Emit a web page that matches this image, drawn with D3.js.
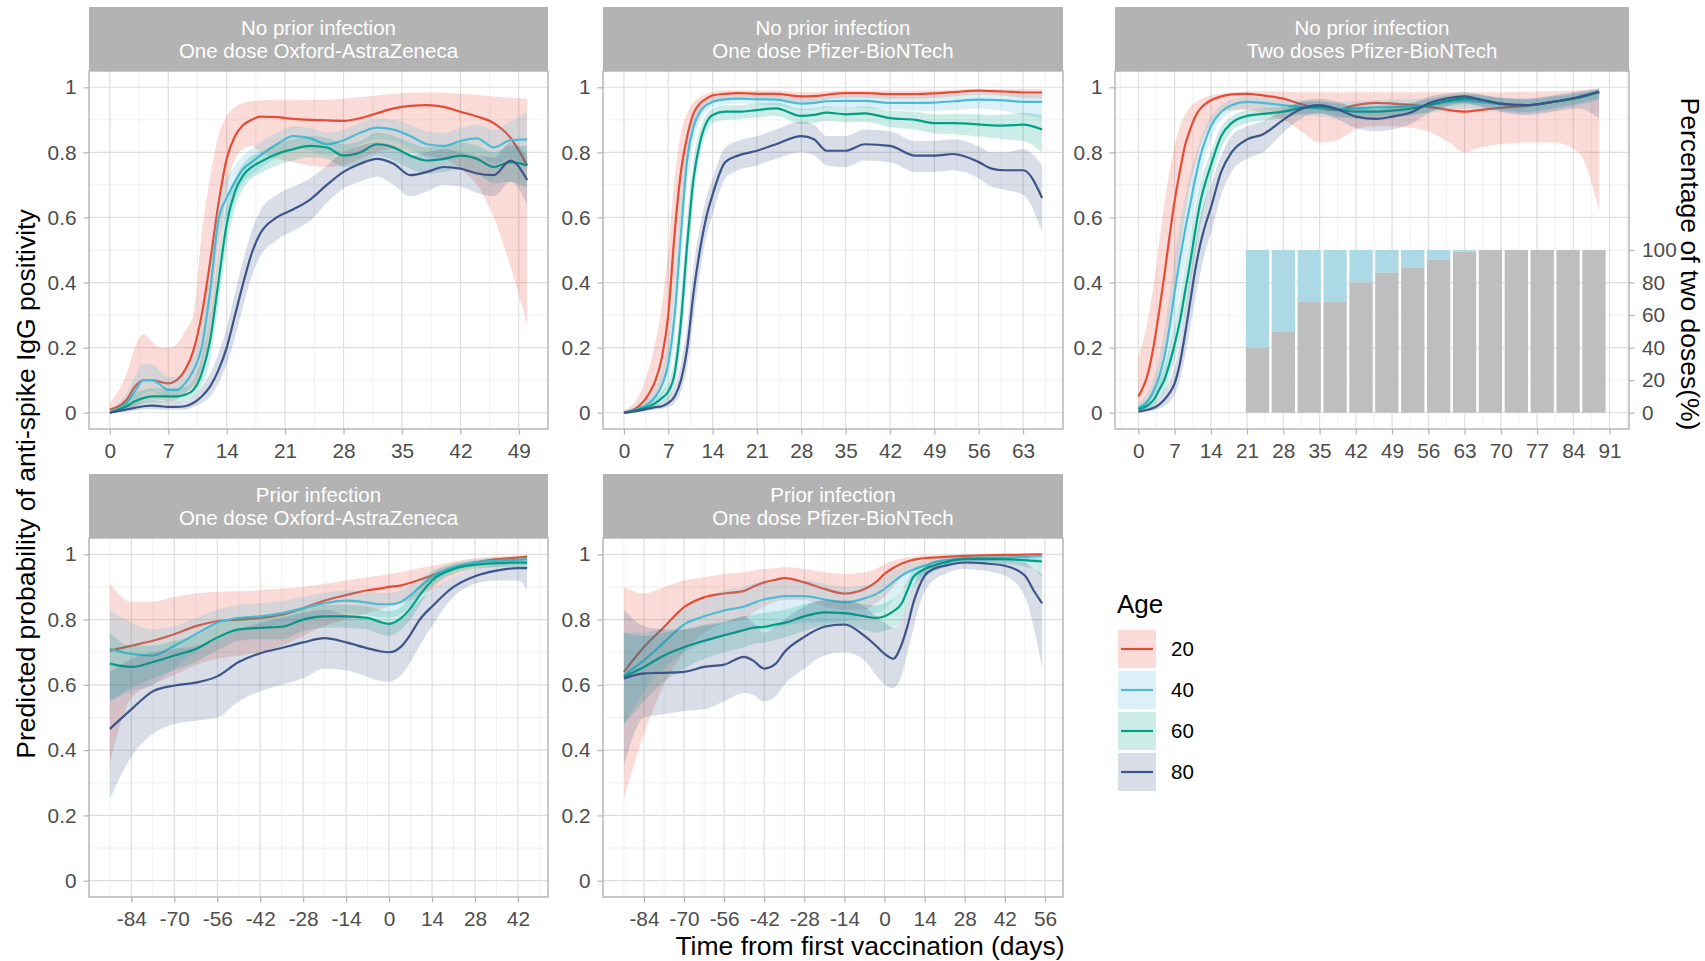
<!DOCTYPE html>
<html>
<head>
<meta charset="utf-8">
<script src="https://cdn.jsdelivr.net/npm/d3@7"></script>
<style>
body { margin: 0; background: #fff; }
text { font-family: "Liberation Sans", Arial, Helvetica, sans-serif; }
</style>
</head>
<body>
<script>
// ---- data ----
var ages = ["20", "40", "60", "80"];
var ageColors = ["#E64B35", "#4DBBD5", "#00A087", "#3C5488"];

var yTicks = [0, 0.2, 0.4, 0.6, 0.8, 1];
var yTickLabels = ["0", "0.2", "0.4", "0.6", "0.8", "1"];

var stripTop = ["No prior infection", "No prior infection", "No prior infection", "Prior infection", "Prior infection"];
var stripBottom = ["One dose Oxford-AstraZeneca", "One dose Pfizer-BioNTech", "Two doses Pfizer-BioNTech",
                   "One dose Oxford-AstraZeneca", "One dose Pfizer-BioNTech"];

// panel 1: no prior infection, one dose AZ
var p1Ticks = [0, 7, 14, 21, 28, 35, 42, 49];
var p1Days = [0,2,3,4,5,6,7,8,9,10,11,12,13,14,15,16,17,18,20,22,24,26,28,30,32,34,36,38,40,42,44,46,48,50];
var p1Fit = [
  [0.01,0.04,0.08,0.10,0.10,0.095,0.09,0.10,0.13,0.19,0.30,0.46,0.64,0.78,0.85,0.885,0.90,0.91,0.908,0.903,0.90,0.898,0.897,0.905,0.92,0.935,0.943,0.945,0.94,0.925,0.91,0.89,0.845,0.76],
  [0,0.03,0.066,0.10,0.10,0.087,0.07,0.07,0.09,0.13,0.20,0.37,0.59,0.66,0.71,0.75,0.77,0.79,0.825,0.85,0.843,0.825,0.837,0.86,0.876,0.87,0.85,0.825,0.82,0.835,0.843,0.815,0.837,0.84],
  [0,0.02,0.035,0.045,0.05,0.05,0.05,0.05,0.055,0.07,0.12,0.22,0.40,0.58,0.68,0.73,0.755,0.77,0.795,0.81,0.82,0.815,0.79,0.80,0.825,0.815,0.79,0.775,0.78,0.79,0.78,0.755,0.77,0.76],
  [0,0.01,0.015,0.02,0.022,0.02,0.018,0.018,0.02,0.03,0.05,0.08,0.13,0.20,0.30,0.40,0.49,0.55,0.60,0.625,0.655,0.70,0.74,0.765,0.78,0.765,0.73,0.74,0.755,0.75,0.735,0.73,0.775,0.715]
];
var p1Lo = [
  [0,0.005,0.02,0.035,0.04,0.04,0.035,0.04,0.06,0.08,0.12,0.22,0.45,0.68,0.78,0.81,0.82,0.80,0.78,0.77,0.76,0.755,0.76,0.78,0.80,0.81,0.80,0.79,0.78,0.75,0.70,0.60,0.45,0.27],
  [0,0.01,0.035,0.06,0.065,0.055,0.045,0.045,0.06,0.09,0.14,0.29,0.52,0.60,0.66,0.71,0.73,0.75,0.785,0.815,0.805,0.79,0.80,0.825,0.84,0.835,0.81,0.785,0.775,0.79,0.795,0.765,0.78,0.76],
  [0,0.008,0.02,0.028,0.032,0.032,0.032,0.032,0.036,0.048,0.085,0.16,0.33,0.51,0.63,0.69,0.72,0.735,0.76,0.775,0.785,0.78,0.755,0.765,0.79,0.775,0.75,0.735,0.74,0.75,0.735,0.705,0.71,0.69],
  [0,0.003,0.006,0.01,0.011,0.01,0.009,0.009,0.01,0.017,0.03,0.05,0.09,0.15,0.23,0.33,0.42,0.48,0.53,0.56,0.59,0.645,0.69,0.71,0.725,0.70,0.665,0.68,0.70,0.695,0.675,0.665,0.71,0.64]
];
var p1Hi = [
  [0.03,0.12,0.20,0.24,0.22,0.20,0.20,0.21,0.25,0.30,0.55,0.72,0.85,0.91,0.94,0.952,0.957,0.96,0.96,0.96,0.962,0.962,0.965,0.97,0.975,0.98,0.983,0.984,0.983,0.98,0.977,0.972,0.968,0.965],
  [0.01,0.06,0.11,0.15,0.15,0.13,0.11,0.11,0.13,0.18,0.27,0.45,0.65,0.72,0.76,0.79,0.81,0.83,0.86,0.88,0.875,0.86,0.87,0.89,0.905,0.90,0.885,0.865,0.86,0.875,0.885,0.87,0.895,0.925],
  [0.005,0.04,0.06,0.07,0.075,0.075,0.075,0.075,0.08,0.10,0.17,0.29,0.48,0.64,0.72,0.765,0.79,0.80,0.825,0.84,0.85,0.845,0.825,0.835,0.86,0.85,0.83,0.815,0.82,0.83,0.82,0.80,0.82,0.82],
  [0.005,0.02,0.03,0.035,0.038,0.036,0.034,0.034,0.036,0.05,0.08,0.12,0.18,0.26,0.37,0.47,0.56,0.62,0.67,0.695,0.72,0.76,0.80,0.82,0.83,0.82,0.79,0.80,0.81,0.80,0.79,0.785,0.83,0.79]
];

// panel 2: no prior infection, one dose Pfizer
var p2Ticks = [0, 7, 14, 21, 28, 35, 42, 49, 56, 63];
var p2Days = [0,2,4,5,6,7,8,9,10,11,12,13,14,16,18,21,24,28,30,32,35,38,42,46,49,52,56,58,60,63,66];
var p2Fit = [
  [0,0.015,0.06,0.10,0.17,0.30,0.55,0.74,0.85,0.92,0.95,0.965,0.975,0.98,0.982,0.98,0.98,0.972,0.973,0.977,0.982,0.982,0.979,0.979,0.981,0.985,0.99,0.988,0.987,0.984,0.984],
  [0,0.01,0.03,0.05,0.085,0.15,0.30,0.55,0.78,0.88,0.925,0.945,0.955,0.963,0.965,0.963,0.962,0.95,0.952,0.957,0.958,0.958,0.952,0.952,0.953,0.957,0.962,0.961,0.96,0.955,0.955],
  [0,0.008,0.02,0.03,0.045,0.065,0.12,0.28,0.52,0.72,0.83,0.89,0.915,0.925,0.925,0.93,0.935,0.912,0.915,0.922,0.917,0.92,0.905,0.90,0.89,0.89,0.886,0.883,0.882,0.885,0.87],
  [0,0.005,0.013,0.017,0.02,0.03,0.05,0.10,0.20,0.37,0.50,0.60,0.67,0.77,0.79,0.805,0.825,0.85,0.84,0.805,0.805,0.825,0.82,0.79,0.79,0.795,0.77,0.75,0.745,0.745,0.66]
];
var p2Lo = [
  [0,0.005,0.025,0.045,0.08,0.17,0.38,0.60,0.76,0.86,0.91,0.94,0.955,0.965,0.968,0.965,0.965,0.955,0.957,0.962,0.968,0.968,0.965,0.965,0.967,0.972,0.978,0.976,0.974,0.968,0.965],
  [0,0.004,0.017,0.03,0.055,0.10,0.22,0.46,0.70,0.83,0.895,0.925,0.94,0.947,0.95,0.947,0.945,0.93,0.932,0.937,0.938,0.937,0.93,0.928,0.927,0.93,0.935,0.932,0.928,0.915,0.905],
  [0,0.003,0.01,0.018,0.03,0.045,0.085,0.21,0.44,0.66,0.79,0.86,0.89,0.90,0.902,0.907,0.912,0.887,0.89,0.897,0.892,0.894,0.877,0.87,0.858,0.856,0.849,0.845,0.84,0.835,0.80],
  [0,0.002,0.007,0.01,0.012,0.018,0.03,0.065,0.14,0.29,0.43,0.54,0.61,0.72,0.745,0.76,0.78,0.80,0.79,0.76,0.755,0.775,0.77,0.74,0.74,0.745,0.72,0.695,0.685,0.67,0.555]
];
var p2Hi = [
  [0.01,0.04,0.14,0.22,0.33,0.50,0.72,0.86,0.92,0.955,0.97,0.98,0.986,0.99,0.99,0.99,0.99,0.985,0.985,0.988,0.99,0.99,0.99,0.99,0.99,0.993,0.995,0.995,0.995,0.994,0.996],
  [0.005,0.02,0.05,0.08,0.13,0.22,0.40,0.64,0.84,0.92,0.95,0.962,0.97,0.976,0.978,0.977,0.976,0.968,0.97,0.974,0.975,0.976,0.972,0.973,0.975,0.978,0.982,0.982,0.982,0.98,0.982],
  [0.004,0.015,0.032,0.045,0.065,0.095,0.17,0.36,0.60,0.78,0.87,0.915,0.935,0.945,0.945,0.95,0.953,0.933,0.936,0.942,0.938,0.942,0.928,0.925,0.917,0.918,0.917,0.915,0.916,0.922,0.915],
  [0.003,0.01,0.02,0.025,0.032,0.05,0.08,0.15,0.27,0.45,0.57,0.66,0.72,0.815,0.835,0.85,0.87,0.895,0.885,0.85,0.85,0.87,0.865,0.835,0.835,0.84,0.818,0.80,0.80,0.81,0.76]
];

// panel 3: no prior infection, two doses Pfizer
var p3Ticks = [0, 7, 14, 21, 28, 35, 42, 49, 56, 63, 70, 77, 84, 91];
var p3Days = [0,2,3,4,5,6,7,8,9,10,11,12,13,14,16,18,21,24,28,31,35,38,42,46,49,53,56,60,63,66,70,75,80,85,89];
var p3Fit = [
  [0.05,0.13,0.21,0.31,0.42,0.54,0.65,0.74,0.82,0.87,0.91,0.935,0.95,0.96,0.972,0.978,0.98,0.975,0.965,0.95,0.935,0.93,0.945,0.952,0.95,0.945,0.94,0.93,0.925,0.93,0.937,0.943,0.955,0.968,0.985],
  [0.015,0.04,0.07,0.11,0.17,0.26,0.37,0.47,0.56,0.64,0.72,0.79,0.84,0.88,0.925,0.945,0.955,0.952,0.945,0.94,0.935,0.932,0.935,0.938,0.94,0.942,0.945,0.955,0.958,0.955,0.948,0.945,0.955,0.97,0.985],
  [0.01,0.025,0.04,0.07,0.10,0.15,0.21,0.28,0.37,0.46,0.56,0.65,0.71,0.76,0.85,0.89,0.912,0.918,0.925,0.935,0.94,0.932,0.925,0.925,0.928,0.935,0.945,0.96,0.965,0.962,0.95,0.945,0.955,0.968,0.985],
  [0.003,0.01,0.015,0.025,0.04,0.06,0.09,0.15,0.24,0.34,0.44,0.52,0.58,0.63,0.74,0.80,0.84,0.855,0.90,0.93,0.945,0.935,0.91,0.903,0.91,0.925,0.95,0.967,0.972,0.962,0.95,0.945,0.955,0.97,0.987]
];
var p3Lo = [
  [0.01,0.03,0.06,0.10,0.17,0.27,0.38,0.50,0.60,0.70,0.76,0.82,0.86,0.89,0.92,0.93,0.93,0.92,0.90,0.87,0.83,0.835,0.87,0.88,0.88,0.875,0.865,0.83,0.80,0.815,0.825,0.83,0.83,0.80,0.62],
  [0.005,0.02,0.04,0.07,0.11,0.18,0.27,0.37,0.46,0.55,0.64,0.72,0.79,0.84,0.90,0.925,0.935,0.932,0.925,0.918,0.91,0.906,0.91,0.913,0.915,0.917,0.92,0.932,0.935,0.932,0.925,0.92,0.93,0.945,0.96],
  [0.004,0.012,0.022,0.045,0.065,0.11,0.16,0.22,0.30,0.39,0.49,0.58,0.65,0.71,0.81,0.865,0.89,0.898,0.905,0.915,0.92,0.912,0.904,0.904,0.907,0.914,0.925,0.942,0.947,0.944,0.93,0.925,0.935,0.95,0.965],
  [0,0.004,0.007,0.012,0.02,0.033,0.055,0.10,0.17,0.26,0.35,0.43,0.50,0.55,0.67,0.74,0.78,0.80,0.86,0.90,0.92,0.905,0.875,0.865,0.87,0.89,0.92,0.945,0.952,0.94,0.925,0.915,0.925,0.935,0.905]
];
var p3Hi = [
  [0.17,0.30,0.40,0.52,0.64,0.74,0.82,0.88,0.915,0.94,0.953,0.963,0.97,0.975,0.981,0.985,0.988,0.988,0.987,0.985,0.985,0.985,0.985,0.985,0.985,0.985,0.985,0.985,0.985,0.985,0.985,0.986,0.988,0.99,0.995],
  [0.03,0.07,0.11,0.17,0.25,0.36,0.48,0.58,0.66,0.73,0.79,0.84,0.88,0.91,0.945,0.962,0.97,0.968,0.963,0.96,0.957,0.955,0.957,0.96,0.962,0.964,0.966,0.973,0.976,0.974,0.968,0.966,0.973,0.983,0.993],
  [0.02,0.045,0.065,0.10,0.14,0.20,0.27,0.35,0.45,0.54,0.63,0.71,0.76,0.80,0.88,0.91,0.93,0.935,0.942,0.952,0.957,0.95,0.943,0.943,0.946,0.953,0.962,0.975,0.979,0.977,0.966,0.962,0.97,0.981,0.993],
  [0.008,0.02,0.03,0.045,0.07,0.10,0.14,0.21,0.31,0.42,0.52,0.60,0.66,0.70,0.79,0.85,0.88,0.895,0.93,0.955,0.965,0.958,0.938,0.932,0.94,0.952,0.97,0.982,0.985,0.978,0.968,0.965,0.975,0.988,0.998]
];
// share of second doses, 5-day bins from day 21
var doseBinMid = [23, 28, 33, 38, 43, 48, 53, 58, 63, 68, 73, 78, 83, 88];
var twoDosePct = [40, 50, 68, 68, 80, 86, 89, 94, 99, 100, 100, 100, 100, 100];
var doseBinWidth = 4.5;
var pctTicks = [0, 20, 40, 60, 80, 100];

// panel 4: prior infection, one dose AZ
var p4Ticks = [-84, -70, -56, -42, -28, -14, 0, 14, 28, 42];
var p4Days = [-91,-84,-77,-70,-63,-56,-49,-42,-35,-28,-21,-14,-7,-3,0,4,7,10,14,21,28,35,42,45];
var p4Fit = [
  [0.705,0.72,0.735,0.755,0.78,0.795,0.80,0.805,0.815,0.835,0.858,0.875,0.89,0.895,0.90,0.905,0.913,0.922,0.935,0.96,0.975,0.985,0.99,0.993],
  [0.71,0.695,0.69,0.72,0.755,0.79,0.805,0.81,0.82,0.835,0.85,0.858,0.852,0.847,0.847,0.855,0.875,0.90,0.93,0.96,0.975,0.98,0.983,0.985],
  [0.665,0.655,0.67,0.69,0.71,0.745,0.77,0.775,0.778,0.80,0.81,0.81,0.805,0.793,0.787,0.805,0.835,0.875,0.92,0.955,0.968,0.973,0.975,0.975],
  [0.465,0.525,0.58,0.598,0.607,0.626,0.67,0.697,0.713,0.73,0.743,0.73,0.712,0.703,0.70,0.718,0.755,0.80,0.84,0.90,0.933,0.95,0.958,0.958]
];
var p4Lo = [
  [0.36,0.56,0.60,0.63,0.66,0.68,0.69,0.70,0.72,0.75,0.78,0.80,0.82,0.83,0.84,0.85,0.86,0.875,0.89,0.93,0.955,0.965,0.97,0.97],
  [0.55,0.58,0.60,0.65,0.70,0.745,0.765,0.77,0.78,0.797,0.815,0.822,0.814,0.808,0.808,0.818,0.84,0.87,0.905,0.945,0.963,0.968,0.97,0.97],
  [0.55,0.59,0.62,0.645,0.67,0.705,0.735,0.74,0.74,0.765,0.775,0.775,0.77,0.756,0.75,0.77,0.80,0.845,0.895,0.94,0.955,0.96,0.96,0.958],
  [0.25,0.38,0.45,0.48,0.49,0.50,0.55,0.58,0.60,0.62,0.65,0.645,0.625,0.612,0.61,0.63,0.67,0.72,0.78,0.87,0.91,0.92,0.92,0.89]
];
var p4Hi = [
  [0.91,0.855,0.855,0.87,0.88,0.885,0.887,0.89,0.895,0.90,0.91,0.92,0.93,0.935,0.94,0.945,0.952,0.958,0.965,0.978,0.988,0.993,0.996,0.997],
  [0.83,0.79,0.77,0.78,0.805,0.83,0.845,0.85,0.857,0.87,0.882,0.89,0.887,0.882,0.882,0.89,0.905,0.925,0.95,0.973,0.985,0.99,0.992,0.993],
  [0.76,0.72,0.72,0.735,0.75,0.785,0.805,0.81,0.815,0.835,0.845,0.845,0.84,0.83,0.826,0.84,0.87,0.905,0.943,0.97,0.98,0.985,0.987,0.988],
  [0.64,0.68,0.70,0.71,0.72,0.74,0.77,0.79,0.805,0.82,0.83,0.815,0.80,0.79,0.785,0.80,0.83,0.86,0.89,0.93,0.955,0.968,0.975,0.975]
];

// panel 5: prior infection, one dose Pfizer
var p5Ticks = [-84, -70, -56, -42, -28, -14, 0, 14, 28, 42, 56];
var p5Days = [-91,-84,-77,-70,-63,-56,-49,-46,-42,-38,-35,-28,-21,-14,-7,-3,0,3,6,8,10,12,14,17,21,28,35,42,49,52,55];
var p5Fit = [
  [0.64,0.716,0.777,0.838,0.868,0.88,0.888,0.90,0.914,0.922,0.927,0.914,0.894,0.88,0.894,0.915,0.94,0.958,0.972,0.978,0.983,0.986,0.988,0.99,0.992,0.995,0.997,0.998,0.999,1.0,1.0],
  [0.63,0.675,0.73,0.785,0.81,0.828,0.84,0.85,0.862,0.868,0.872,0.872,0.862,0.853,0.865,0.878,0.894,0.915,0.935,0.945,0.953,0.96,0.965,0.975,0.982,0.988,0.99,0.99,0.992,0.994,0.995],
  [0.625,0.655,0.69,0.715,0.735,0.752,0.768,0.775,0.778,0.785,0.79,0.81,0.822,0.82,0.81,0.805,0.81,0.825,0.85,0.89,0.93,0.945,0.955,0.965,0.975,0.985,0.985,0.985,0.982,0.98,0.978],
  [0.62,0.635,0.637,0.64,0.655,0.662,0.686,0.675,0.65,0.665,0.70,0.747,0.778,0.785,0.75,0.72,0.695,0.68,0.725,0.78,0.85,0.90,0.935,0.955,0.965,0.975,0.972,0.965,0.935,0.89,0.85]
];
var p5Lo = [
  [0.25,0.45,0.60,0.70,0.76,0.79,0.80,0.82,0.84,0.855,0.86,0.86,0.84,0.83,0.83,0.85,0.87,0.90,0.93,0.945,0.955,0.962,0.97,0.975,0.98,0.985,0.988,0.99,0.99,0.99,0.99],
  [0.48,0.58,0.65,0.70,0.73,0.75,0.765,0.77,0.77,0.775,0.78,0.79,0.79,0.795,0.81,0.82,0.83,0.86,0.89,0.905,0.92,0.93,0.94,0.955,0.965,0.975,0.978,0.978,0.98,0.982,0.98],
  [0.48,0.55,0.61,0.65,0.68,0.70,0.715,0.725,0.73,0.738,0.745,0.765,0.78,0.78,0.768,0.76,0.765,0.775,0.80,0.85,0.895,0.918,0.932,0.946,0.96,0.972,0.972,0.97,0.962,0.955,0.93],
  [0.35,0.50,0.51,0.52,0.525,0.55,0.575,0.57,0.55,0.565,0.60,0.65,0.69,0.70,0.675,0.63,0.60,0.59,0.63,0.70,0.77,0.84,0.885,0.92,0.94,0.955,0.95,0.935,0.87,0.78,0.65]
];
var p5Hi = [
  [0.90,0.88,0.90,0.92,0.93,0.94,0.945,0.95,0.955,0.958,0.96,0.955,0.945,0.94,0.945,0.955,0.97,0.98,0.988,0.99,0.993,0.995,0.996,0.997,0.998,0.999,0.999,1.0,1.0,1.0,1.0],
  [0.76,0.76,0.78,0.83,0.86,0.89,0.90,0.91,0.915,0.918,0.92,0.92,0.91,0.90,0.905,0.915,0.93,0.945,0.96,0.967,0.972,0.976,0.98,0.986,0.99,0.994,0.996,0.996,0.997,0.998,0.998],
  [0.76,0.75,0.76,0.77,0.785,0.795,0.81,0.815,0.82,0.826,0.83,0.848,0.857,0.855,0.847,0.843,0.85,0.865,0.89,0.92,0.952,0.963,0.97,0.978,0.985,0.992,0.993,0.993,0.991,0.99,0.99],
  [0.83,0.78,0.77,0.77,0.78,0.79,0.81,0.79,0.76,0.78,0.80,0.84,0.86,0.86,0.84,0.81,0.79,0.775,0.80,0.85,0.90,0.94,0.96,0.975,0.982,0.99,0.99,0.985,0.975,0.955,0.94]
];

// ---- layout ----
var W = 1705, H = 961;
var gridMajor = "#DEDEDE", gridMinor = "#ECECEC", frame = "#B3B3B3", tickText = "#4D4D4D";
var tickLen = 5.5;

var panels = [
  {days: p1Days, fit: p1Fit, lo: p1Lo, hi: p1Hi, ticks: p1Ticks, box: {x0: 89, x1: 548, sy: 7, y0: 71, y1: 429}},
  {days: p2Days, fit: p2Fit, lo: p2Lo, hi: p2Hi, ticks: p2Ticks, box: {x0: 603, x1: 1063, sy: 7, y0: 71, y1: 429}},
  {days: p3Days, fit: p3Fit, lo: p3Lo, hi: p3Hi, ticks: p3Ticks, box: {x0: 1115, x1: 1629, sy: 7, y0: 71, y1: 429}, bars: true},
  {days: p4Days, fit: p4Fit, lo: p4Lo, hi: p4Hi, ticks: p4Ticks, box: {x0: 89, x1: 548, sy: 474, y0: 538, y1: 897}},
  {days: p5Days, fit: p5Fit, lo: p5Lo, hi: p5Hi, ticks: p5Ticks, box: {x0: 603, x1: 1063, sy: 474, y0: 538, y1: 897}}
];

var svg = d3.select("body").append("svg").attr("width", W).attr("height", H);
svg.append("rect").attr("width", W).attr("height", H).attr("fill", "#fff");

var yMinor = yTicks.slice(1).map(function(v, k){ return (v + yTicks[k]) / 2; });

panels.forEach(function(p, i){
  var b = p.box;
  var ext = d3.extent(p.days);
  if (p.bars) ext[1] = Math.max(ext[1], d3.max(doseBinMid) + doseBinWidth / 2);
  var pad = (ext[1] - ext[0]) * 0.05;
  var x = d3.scaleLinear().domain([ext[0] - pad, ext[1] + pad]).range([b.x0, b.x1]);
  var y = d3.scaleLinear().domain([-0.05, 1.05]).range([b.y1, b.y0]);

  var g = svg.append("g");

  // strip
  g.append("rect").attr("x", b.x0).attr("y", b.sy).attr("width", b.x1 - b.x0).attr("height", b.y0 - b.sy)
    .attr("fill", "#B3B3B3");
  var cx = (b.x0 + b.x1) / 2;
  g.append("text").attr("x", cx).attr("y", b.sy + 28).attr("text-anchor", "middle")
    .attr("fill", "#fff").attr("font-size", "20.5px").text(stripTop[i]);
  g.append("text").attr("x", cx).attr("y", b.sy + 51).attr("text-anchor", "middle")
    .attr("fill", "#fff").attr("font-size", "20.5px").text(stripBottom[i]);

  // grid
  var step = p.ticks[1] - p.ticks[0];
  var dom = x.domain();
  var xMinor = d3.range(p.ticks[0] - step / 2, dom[1], step).filter(function(v){ return v >= dom[0]; });
  g.selectAll(".xmin").data(xMinor).enter().append("line")
    .attr("x1", function(d){ return x(d); }).attr("x2", function(d){ return x(d); })
    .attr("y1", b.y0).attr("y2", b.y1).attr("stroke", gridMinor).attr("stroke-width", 0.8);
  g.selectAll(".ymin").data(yMinor).enter().append("line")
    .attr("x1", b.x0).attr("x2", b.x1)
    .attr("y1", function(d){ return y(d); }).attr("y2", function(d){ return y(d); })
    .attr("stroke", gridMinor).attr("stroke-width", 0.8);
  g.selectAll(".xmaj").data(p.ticks).enter().append("line")
    .attr("x1", function(d){ return x(d); }).attr("x2", function(d){ return x(d); })
    .attr("y1", b.y0).attr("y2", b.y1).attr("stroke", gridMajor).attr("stroke-width", 1.2);
  g.selectAll(".ymaj").data(yTicks).enter().append("line")
    .attr("x1", b.x0).attr("x2", b.x1)
    .attr("y1", function(d){ return y(d); }).attr("y2", function(d){ return y(d); })
    .attr("stroke", gridMajor).attr("stroke-width", 1.2);

  var clipId = "clip" + i;
  svg.append("clipPath").attr("id", clipId).append("rect")
    .attr("x", b.x0).attr("y", b.y0).attr("width", b.x1 - b.x0).attr("height", b.y1 - b.y0);
  var plot = g.append("g").attr("clip-path", "url(#" + clipId + ")");

  // stacked bars for the share of two doses (right axis)
  if (p.bars) {
    var yPct = d3.scaleLinear().domain([-10, 210]).range([b.y1, b.y0]);
    var bw = x(doseBinWidth) - x(0);
    plot.selectAll(".one").data(twoDosePct).enter().append("rect")
      .attr("x", function(d, k){ return x(doseBinMid[k] - doseBinWidth / 2); })
      .attr("width", bw)
      .attr("y", yPct(100))
      .attr("height", function(d){ return yPct(d) - yPct(100); })
      .attr("fill", "#ADD8E6");
    plot.selectAll(".two").data(twoDosePct).enter().append("rect")
      .attr("x", function(d, k){ return x(doseBinMid[k] - doseBinWidth / 2); })
      .attr("width", bw)
      .attr("y", function(d){ return yPct(d); })
      .attr("height", function(d){ return yPct(0) - yPct(d); })
      .attr("fill", "#BEBEBE");

    var ra = svg.append("g").attr("transform", "translate(" + b.x1 + ",0)")
      .call(d3.axisRight(yPct).tickValues(pctTicks).tickSize(tickLen).tickPadding(7.5));
    styleAxis(ra);
  }

  // ribbon then line, one age group after the other
  ages.forEach(function(a, k){
    var rows = p.days.map(function(d, j){ return {d: d, f: p.fit[k][j], lo: p.lo[k][j], hi: p.hi[k][j]}; });
    plot.append("path").datum(rows)
      .attr("d", d3.area().curve(d3.curveMonotoneX)
        .x(function(r){ return x(r.d); }).y0(function(r){ return y(r.lo); }).y1(function(r){ return y(r.hi); }))
      .attr("fill", ageColors[k]).attr("fill-opacity", 0.2);
    plot.append("path").datum(rows)
      .attr("d", d3.line().curve(d3.curveMonotoneX)
        .x(function(r){ return x(r.d); }).y(function(r){ return y(r.f); }))
      .attr("fill", "none").attr("stroke", ageColors[k]).attr("stroke-width", 2.2)
      .attr("stroke-linejoin", "round");
  });

  // frame
  g.append("rect").attr("x", b.x0).attr("y", b.y0).attr("width", b.x1 - b.x0).attr("height", b.y1 - b.y0)
    .attr("fill", "none").attr("stroke", frame).attr("stroke-width", 1.4);

  // axes
  var xa = svg.append("g").attr("transform", "translate(0," + b.y1 + ")")
    .call(d3.axisBottom(x).tickValues(p.ticks).tickSize(tickLen).tickPadding(9)
      .tickFormat(function(d){ return String(d); }));
  styleAxis(xa);
  var ya = svg.append("g").attr("transform", "translate(" + b.x0 + ",0)")
    .call(d3.axisLeft(y).tickValues(yTicks).tickSize(tickLen).tickPadding(7)
      .tickFormat(function(d, k){ return yTickLabels[k]; }));
  styleAxis(ya);
});

function styleAxis(sel){
  sel.select(".domain").remove();
  sel.attr("font-family", null).attr("font-size", null);
  sel.selectAll(".tick line").attr("stroke", frame).attr("stroke-width", 1.2);
  sel.selectAll(".tick text").attr("fill", tickText).style("font-size", "20.8px");
}

// axis titles
svg.append("text").attr("x", 870).attr("y", 955).attr("text-anchor", "middle")
  .attr("font-size", "26.5px").attr("fill", "#000").text("Time from first vaccination (days)");
svg.append("text").attr("transform", "translate(35,484) rotate(-90)").attr("text-anchor", "middle")
  .attr("font-size", "26.5px").attr("fill", "#000").text("Predicted probability of anti-spike IgG positivity");
svg.append("text").attr("transform", "translate(1681,264) rotate(90)").attr("text-anchor", "middle")
  .attr("font-size", "26.5px").attr("fill", "#000").text("Percentage of two doses(%)");

// legend
var lg = svg.append("g").attr("transform", "translate(1118,613)");
lg.append("text").attr("x", -1).attr("y", 0).attr("font-size", "26px").attr("fill", "#000").text("Age");
var keys = lg.selectAll(".key").data(ages).enter().append("g")
  .attr("transform", function(d, k){ return "translate(0," + (17 + k * 41) + ")"; });
keys.append("rect").attr("width", 38).attr("height", 38).attr("fill", "#fff");
keys.append("rect").attr("width", 38).attr("height", 38)
  .attr("fill", function(d, k){ return ageColors[k]; }).attr("fill-opacity", 0.2);
keys.append("line").attr("x1", 3).attr("x2", 35).attr("y1", 19).attr("y2", 19)
  .attr("stroke", function(d, k){ return ageColors[k]; }).attr("stroke-width", 2.2);
keys.append("text").attr("x", 53).attr("y", 19).attr("dy", "0.35em")
  .attr("font-size", "20.5px").attr("fill", "#000").text(function(d){ return d; });
</script>
</body>
</html>
